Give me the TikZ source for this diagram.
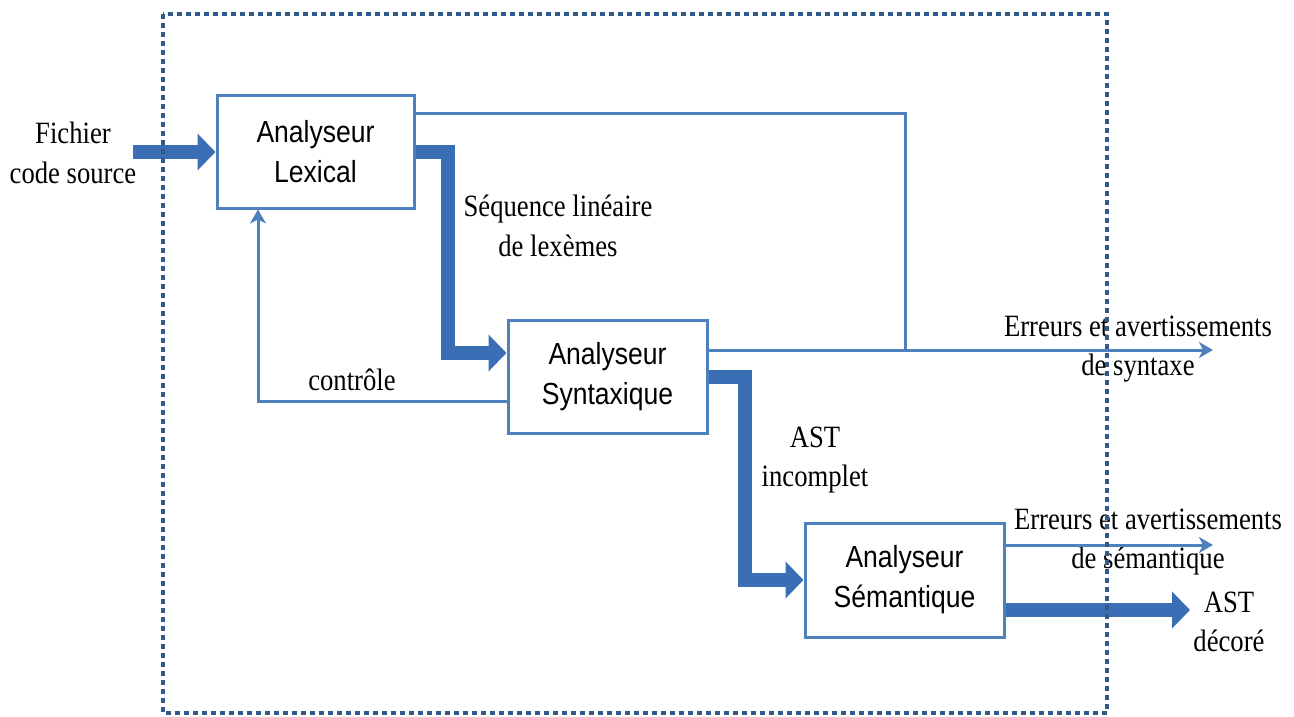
\documentclass[tikz,border=0pt]{standalone}
\usepackage{fontspec}
\setmainfont{Liberation Serif}[FakeStretch=0.86]
\newfontfamily\boxfont{Liberation Sans}[FakeStretch=0.87]
\usetikzlibrary{arrows.meta}
\definecolor{boxblue}{HTML}{4F81BD}
\definecolor{thickblue}{HTML}{3A6EB5}
\definecolor{framecol}{HTML}{30598C}
\tikzset{
  stagebox/.style={draw=boxblue, line width=3pt, fill=white, minimum width=197pt, minimum height=112pt,
    align=center, inner sep=0pt, font=\boxfont\fontsize{30.5}{40}\selectfont},
  lbl/.style={align=center, inner sep=0pt, font=\fontsize{31}{39.5}\selectfont},
  thin/.style={draw=boxblue, line width=3pt},
  thinarrow/.style={thin, -{Stealth[length=14pt,width=16pt,inset=4pt]}},
  thickline/.style={draw=thickblue, line width=14pt},
  thickarrow/.style={thickline, -{Triangle[length=18pt,width=36pt]}},
  frame/.style={draw=framecol, line width=4.5pt, dash pattern=on 5pt off 4pt}
}
\begin{document}
\begin{tikzpicture}[x=1pt,y=-1pt]
\useasboundingbox (0,0) rectangle (1294,717);
% boxes
\node[stagebox] (lex) at (315.5,152) {Analyseur\\Lexical};
\node[stagebox, minimum width=199pt, minimum height=113pt] (syn) at (607.5,376.5) {Analyseur\\Syntaxique};
\node[stagebox, minimum width=199pt, minimum height=114pt] (sem) at (904.5,580) {Analyseur\\Sémantique};
% labels
\node[lbl] (src) at (73,153) {Fichier\\code source};
\node[lbl] (seq) at (558,226) {Séquence linéaire\\de lexèmes};
\node[lbl] (ctl) at (352,380) {contrôle};
\node[lbl] (err1) at (1138,349) {Erreurs et avertissements\\de syntaxe};
\node[lbl] (ast1) at (815,460) {AST\\incomplet};
\node[lbl] (err2) at (1148,542) {Erreurs et avertissements\\de sémantique};
\node[lbl] (ast2) at (1229,622) {AST\\décoré};
% coordinates
\coordinate (inStart) at (133,152);
\coordinate (lexSeqCorner) at (448,152);
\coordinate (synIn) at (448,353);
\coordinate (errTopCorner) at (905,113);
\coordinate (errJoin) at (905,350);
\coordinate (errEnd) at (1213,350);
\coordinate (synAstCorner) at (745,376.5);
\coordinate (semIn) at (745,580);
\coordinate (ctlCorner) at (258,401);
\coordinate (semErrEnd) at (1213,545);
\coordinate (astEnd) at (1190,610);
% input
\draw[thickarrow] (inStart) -- (lex.west);
% lexical -> syntaxique
\draw[thickline] (lex.east) -- ([xshift=7pt]lexSeqCorner);
\draw[thickarrow] ([yshift=7pt]lexSeqCorner) -- (synIn) -- (synIn -| syn.west);
% errors path from lexical
\draw[thin] ([yshift=39pt]lex.east) -- (errTopCorner) -- (errJoin);
\draw[thinarrow] ([yshift=26.5pt]syn.east) -- (errEnd);
% syntaxique -> semantique
\draw[thickline] (syn.east) -- ([xshift=7pt]synAstCorner);
\draw[thickarrow] ([yshift=7pt]synAstCorner) -- (semIn) -- (sem.west);
% control
\draw[thinarrow] ([yshift=-24.5pt]syn.west) -- (ctlCorner) -- (ctlCorner |- lex.south);
% semantic outputs
\draw[thinarrow] ([yshift=35pt]sem.east) -- (semErrEnd);
\draw[thickarrow] ([yshift=-30pt]sem.east) -- (astEnd);
% frame
\draw[frame] (163,14) rectangle (1107,713);
\end{tikzpicture}
\end{document}
